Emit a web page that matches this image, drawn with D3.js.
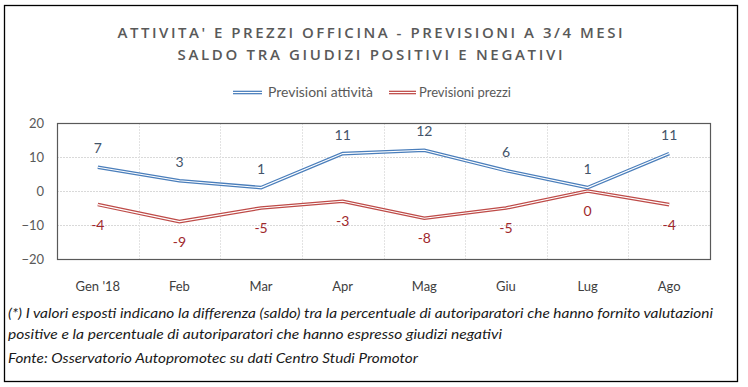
<!DOCTYPE html>
<html>
<head>
<meta charset="utf-8">
<script src="https://cdn.jsdelivr.net/npm/d3@7"></script>
<style>
  html, body { margin: 0; padding: 0; background: #fff; }
  svg { display: block; }
</style>
</head>
<body>
<svg id="chart" width="748" height="387"></svg>
<script>
const categories = ["Gen '18", "Feb", "Mar", "Apr", "Mag", "Giu", "Lug", "Ago"];
const attivita = [7, 3, 1, 11, 12, 6, 1, 11];
const prezzi = [-4, -9, -5, -3, -8, -5, 0, -4];
const yTicks = [-20, -10, 0, 10, 20];
const seriesNames = ["Previsioni attività", "Previsioni prezzi"];
const titleLines = ["ATTIVITA' E PREZZI OFFICINA - PREVISIONI A 3/4 MESI", "SALDO TRA GIUDIZI POSITIVI E NEGATIVI"];
const noteLines = [
  "(*) I valori esposti indicano la differenza (saldo) tra la percentuale di autoriparatori che hanno fornito valutazioni",
  "positive e la percentuale di autoriparatori che hanno espresso giudizi negativi",
  "Fonte: Osservatorio Autopromotec su dati Centro Studi Promotor"
];

const svg = d3.select("#chart");
const font = "Lato, 'Open Sans', sans-serif";

// outer frame
svg.append("rect").attr("x", 4.5).attr("y", 5.5).attr("width", 733).attr("height", 376)
  .attr("fill", "none").attr("stroke", "#000").attr("stroke-width", 1.3);

// title
const titleLen = [505, 385];
const titleY = [37.5, 59.5];
titleLines.forEach((t, i) => {
  svg.append("text").attr("x", 370).attr("y", titleY[i]).attr("text-anchor", "middle")
    .attr("font-family", "'Open Sans', sans-serif").attr("font-weight", 600).attr("font-size", 15)
    .attr("fill", "#595959").attr("textLength", titleLen[i]).attr("lengthAdjust", "spacing")
    .text(t);
});

// scales
const plot = { left: 57, right: 710, top: 123, bottom: 259 };
const x = d3.scaleBand().domain(categories).range([plot.left, plot.right]);
const y = d3.scaleLinear().domain([-20, 20]).range([plot.bottom, plot.top]);
const cx = d => x(d) + x.bandwidth() / 2;

// grid
const g = svg.append("g");
g.selectAll("line.hg").data(yTicks.slice(1, -1)).join("line")
  .attr("x1", plot.left).attr("x2", plot.right)
  .attr("y1", d => Math.round(y(d)) + 0.5).attr("y2", d => Math.round(y(d)) + 0.5)
  .attr("stroke", "#d9d9d9").attr("stroke-width", 1).attr("stroke-dasharray", "2,1");
g.selectAll("line.vg").data(categories.slice(1)).join("line")
  .attr("x1", d => Math.round(x(d)) + 0.5).attr("x2", d => Math.round(x(d)) + 0.5)
  .attr("y1", plot.top).attr("y2", plot.bottom)
  .attr("stroke", "#e3e3e3").attr("stroke-width", 1).attr("stroke-dasharray", "2,1");

// plot border
svg.append("rect").attr("x", plot.left + 0.5).attr("y", plot.top + 0.5)
  .attr("width", plot.right - plot.left).attr("height", plot.bottom - plot.top)
  .attr("fill", "none").attr("stroke", "#595959").attr("stroke-width", 1.2);

// y axis labels
const yAxis = d3.axisLeft(y).tickValues(yTicks).tickSize(0).tickPadding(13);
const ya = svg.append("g").attr("transform", `translate(${plot.left},0)`).call(yAxis);
ya.select(".domain").remove();
ya.selectAll("text").attr("font-family", font).attr("font-size", 13).attr("fill", "#595959");

// x axis labels
const xAxis = d3.axisBottom(x).tickSize(0).tickPadding(23);
const xa = svg.append("g").attr("transform", `translate(0,${plot.bottom})`).call(xAxis);
xa.select(".domain").remove();
xa.selectAll("text").attr("font-family", font).attr("font-size", 13).attr("fill", "#404040");

// lines (double compound style)
const line = d3.line().x((d, i) => cx(categories[i])).y(d => y(d));
const series = [
  { name: seriesNames[0], values: attivita, color: "#4a7ebb", label: "#44546a", dy: -19 },
  { name: seriesNames[1], values: prezzi, color: "#be4b48", label: "#a0282d", dy: 20 }
];
series.forEach(s => {
  svg.append("path").datum(s.values).attr("d", line).attr("fill", "none")
    .attr("stroke", s.color).attr("stroke-width", 3.6).attr("stroke-linejoin", "miter");
  svg.append("path").datum(s.values).attr("d", line).attr("fill", "none")
    .attr("stroke", "#fff").attr("stroke-width", 1.1).attr("stroke-linejoin", "miter");
  svg.append("g").selectAll("text").data(s.values).join("text")
    .attr("x", (d, i) => cx(categories[i]))
    .attr("y", d => y(d) + s.dy + 5)
    .attr("text-anchor", "middle").attr("font-family", font).attr("font-size", 14)
    .attr("fill", s.label).text(d => d);
});

// legend
const legendItems = [
  { x1: 233, x2: 262, tx: 268, len: 105 },
  { x1: 389, x2: 416, tx: 419, len: 92 }
];
series.forEach((s, i) => {
  const L = legendItems[i];
  svg.append("line").attr("x1", L.x1).attr("x2", L.x2).attr("y1", 92.5).attr("y2", 92.5)
    .attr("stroke", s.color).attr("stroke-width", 3.6);
  svg.append("line").attr("x1", L.x1).attr("x2", L.x2).attr("y1", 92.5).attr("y2", 92.5)
    .attr("stroke", "#fff").attr("stroke-width", 1.1);
  svg.append("text").attr("x", L.tx).attr("y", 97).attr("font-family", font).attr("font-size", 13)
    .attr("fill", "#595959").attr("textLength", L.len).attr("lengthAdjust", "spacingAndGlyphs").text(s.name);
});

// notes
const noteY = [318, 339, 363];
const noteLen = [705, 494, 410];
noteLines.forEach((t, i) => {
  svg.append("text").attr("x", 8).attr("y", noteY[i]).attr("font-family", font)
    .attr("font-style", "italic").attr("font-size", 14).attr("fill", "#1a1a1a")
    .attr("textLength", noteLen[i]).attr("lengthAdjust", "spacingAndGlyphs").text(t);
});
</script>
</body>
</html>
